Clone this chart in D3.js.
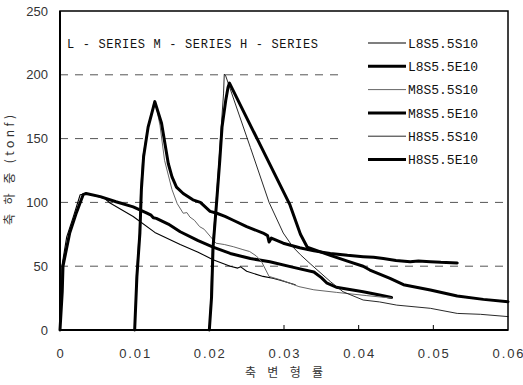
<!DOCTYPE html>
<html><head><meta charset="utf-8">
<script src="https://cdn.jsdelivr.net/npm/d3@7"></script>
<style>body{margin:0;background:#fff}svg{display:block}</style>
</head><body>
<script>
// ---- data (strain, load in tonf) ----
const xTicks = [0, 0.01, 0.02, 0.03, 0.04, 0.05, 0.06];
const xTickLabels = ["0", "0.01", "0.02", "0.03", "0.04", "0.05", "0.06"];
const yTicks = [0, 50, 100, 150, 200, 250];
const yTickLabels = ["0", "50", "100", "150", "200", "250"];
const seriesNames = ["L8S5.5S10", "L8S5.5E10", "M8S5.5S10", "M8S5.5E10", "H8S5.5S10", "H8S5.5E10"];
const groupLabels = ["L - SERIES", "M - SERIES", "H - SERIES"];

const L_S = [[0,0],[0.0002,30],[0.00025,50],[0.0009,73],[0.0018,89],[0.0027,106],[0.0035,107],[0.006,103],[0.0067,99.5],[0.0098,89],[0.0127,76.5],[0.0161,67],[0.0185,61],[0.0205,55],[0.0228,50],[0.0238,48.5],[0.0242,49.5],[0.025,46],[0.0272,42],[0.0285,40.5],[0.0295,39],[0.0315,35.5]];
const L_E = [[0,0],[0.0003,30],[0.0004,50],[0.0013,76],[0.0022,92],[0.0031,106],[0.0035,107],[0.0054,104.5],[0.0075,100.5],[0.0098,96.5],[0.0115,92],[0.0122,90],[0.0125,88],[0.0129,87.5],[0.0145,83],[0.0161,77],[0.0185,70],[0.0205,65],[0.0228,60],[0.0255,56],[0.0281,53.5],[0.0317,48.5],[0.034,45.5],[0.035,41],[0.0357,37],[0.037,33.5],[0.0406,30],[0.0428,27.5],[0.0444,25.5]];
const M_S = [[0.01,0],[0.0102,40],[0.0106,76],[0.0108,110],[0.0111,136],[0.0118,160],[0.0123,171],[0.0126,179],[0.0128,178],[0.0134,160],[0.014,133],[0.015,110],[0.0157,99],[0.0165,91.5],[0.017,92],[0.0174,88.5],[0.018,86],[0.0187,81],[0.0193,79],[0.0201,73.5],[0.0209,68],[0.022,67],[0.0232,65.3],[0.0245,63],[0.0254,61.5],[0.0263,58],[0.027,53.5],[0.028,42],[0.0297,39],[0.032,34],[0.034,31.5],[0.037,29.5],[0.041,27],[0.0444,25]];
const M_E = [[0.01,0],[0.0103,42],[0.0107,76],[0.0109,110],[0.0112,136],[0.0118,159],[0.0123,170],[0.0127,179],[0.0136,162],[0.0145,130.5],[0.015,120],[0.0156,112],[0.0165,107],[0.0178,102],[0.0188,100],[0.0201,93],[0.021,91.5],[0.0221,89],[0.0232,86],[0.025,81],[0.0272,76],[0.0278,74],[0.028,69],[0.0283,72],[0.0299,68],[0.0321,64.5],[0.034,62],[0.0362,60],[0.0385,58.5],[0.0406,57.5],[0.042,57],[0.0433,56],[0.045,54.5],[0.0469,53.5],[0.048,54],[0.0496,53.5],[0.051,53],[0.0532,52.5]];
const H_S = [[0.02,0],[0.0202,26],[0.0204,65],[0.0209,100],[0.0213,133],[0.0216,160],[0.0219,185],[0.022,200.5],[0.0222,199],[0.0255,143],[0.028,100],[0.0299,76],[0.0312,65],[0.0322,59],[0.0335,52],[0.0362,38],[0.0379,30],[0.0406,23.5],[0.0428,22],[0.0451,19.5],[0.0496,17],[0.0532,13],[0.0563,12.3],[0.06,10.5]];
const H_E = [[0.02,0],[0.0203,26],[0.0205,65],[0.021,102],[0.0214,133],[0.0217,159],[0.0222,180],[0.0225,190],[0.0227,193.5],[0.0308,98],[0.0322,75],[0.0331,65],[0.0362,58.5],[0.0385,54],[0.0406,50],[0.0415,47],[0.0442,40.5],[0.046,35.5],[0.0496,31.3],[0.0532,26.6],[0.0567,24],[0.06,22.2]];

const seriesData = [L_S, L_E, M_S, M_E, H_S, H_E];
const seriesStyle = [
  {c:"#000", w:1.1}, {c:"#000", w:3},
  {c:"#666", w:1.0}, {c:"#000", w:3},
  {c:"#111", w:0.9}, {c:"#000", w:3}
];

// ---- layout ----
const W = 523, H = 385;
const x = d3.scaleLinear().domain([0, 0.06]).range([60, 508]);
const y = d3.scaleLinear().domain([0, 250]).range([330, 11]);

const svg = d3.select("body").append("svg").attr("width", W).attr("height", H);

// gridlines
svg.append("g").selectAll("line").data([50,100,150,200]).join("line")
  .attr("x1", x(0)).attr("x2", x(0.06))
  .attr("y1", d => y(d)).attr("y2", d => y(d))
  .attr("stroke", "#555").attr("stroke-width", 1).attr("stroke-dasharray", "8,7");

// legend background (covers gridlines)
svg.append("rect").attr("x", 339).attr("y", 20).attr("width", 166).attr("height", 152).attr("fill", "#fff");

// curves
const line = d3.line().x(d => x(d[0])).y(d => y(d[1]));
svg.append("g").selectAll("path").data(seriesData).join("path")
  .attr("d", d => line(d)).attr("fill", "none")
  .attr("stroke", (d,i) => seriesStyle[i].c)
  .attr("stroke-width", (d,i) => seriesStyle[i].w)
  .attr("stroke-linejoin", "round").attr("stroke-linecap", "round");

// frame
svg.append("rect").attr("x", x(0)).attr("y", y(250)).attr("width", x(0.06)-x(0)).attr("height", y(0)-y(250))
  .attr("fill", "none").attr("stroke", "#000").attr("stroke-width", 1.5);
svg.append("line").attr("x1", x(0)).attr("x2", x(0.06)).attr("y1", y(0)).attr("y2", y(0)).attr("stroke", "#000").attr("stroke-width", 2);
svg.append("line").attr("x1", x(0)).attr("x2", x(0)).attr("y1", y(0)).attr("y2", y(250)).attr("stroke", "#000").attr("stroke-width", 2);

// x ticks (inner)
svg.append("g").selectAll("line").data(xTicks.slice(1, -1)).join("line")
  .attr("x1", d => x(d)).attr("x2", d => x(d)).attr("y1", y(0)).attr("y2", y(0) - 5)
  .attr("stroke", "#000").attr("stroke-width", 1);

// tick labels
svg.append("g").selectAll("text").data(xTicks).join("text")
  .attr("x", d => x(d)).attr("y", 358).attr("text-anchor", "middle")
  .attr("font-family", "Liberation Sans, Arial, sans-serif").attr("font-size", 13).attr("fill", "#333")
  .each(function(d,i){ const t = d3.select(this).text(xTickLabels[i]); if (xTickLabels[i].length > 1) t.attr("textLength", 31).attr("lengthAdjust", "spacing"); });

svg.append("g").selectAll("text").data(yTicks).join("text")
  .attr("x", 48).attr("y", d => y(d)).attr("dy", "0.36em").attr("text-anchor", "end")
  .attr("font-family", "Liberation Sans, Arial, sans-serif").attr("font-size", 13).attr("fill", "#333")
  .text((d,i) => yTickLabels[i]);

// axis titles
svg.append("text").attr("x", 284).attr("y", 377).attr("text-anchor", "middle")
  .attr("font-family", "Noto Sans CJK KR, sans-serif").attr("font-size", 12).attr("fill", "#333")
  .attr("textLength", 78).attr("lengthAdjust", "spacing").text("축 변 형 률");
svg.append("text").attr("transform", "translate(14,170) rotate(-90)").attr("text-anchor", "middle")
  .attr("font-family", "Noto Sans CJK KR, sans-serif").attr("font-size", 12).attr("fill", "#333")
  .attr("textLength", 110).attr("lengthAdjust", "spacing").text("축 하 중 (tonf)");

// group label text
svg.append("text").attr("x", 67).attr("y", 47.5)
  .attr("font-family", "Liberation Mono, DejaVu Sans Mono, monospace").attr("font-size", 12).attr("fill", "#111")
  .attr("textLength", 251).attr("lengthAdjust", "spacing")
  .text(groupLabels.join("  "));

// legend
const lg = svg.append("g").selectAll("g").data(seriesNames).join("g")
  .attr("transform", (d,i) => `translate(0,${43 + i*23.3})`);
lg.append("line").attr("x1", 368).attr("x2", 406).attr("y1", 0).attr("y2", 0)
  .attr("stroke", (d,i) => seriesStyle[i].c).attr("stroke-width", (d,i) => seriesStyle[i].w);
lg.append("text").attr("x", 408).attr("y", 0).attr("dy", "0.36em")
  .attr("font-family", "Liberation Mono, DejaVu Sans Mono, monospace").attr("font-size", 13).attr("fill", "#111")
  .attr("textLength", 70).attr("lengthAdjust", "spacing").text(d => d);
</script>
</body></html>
